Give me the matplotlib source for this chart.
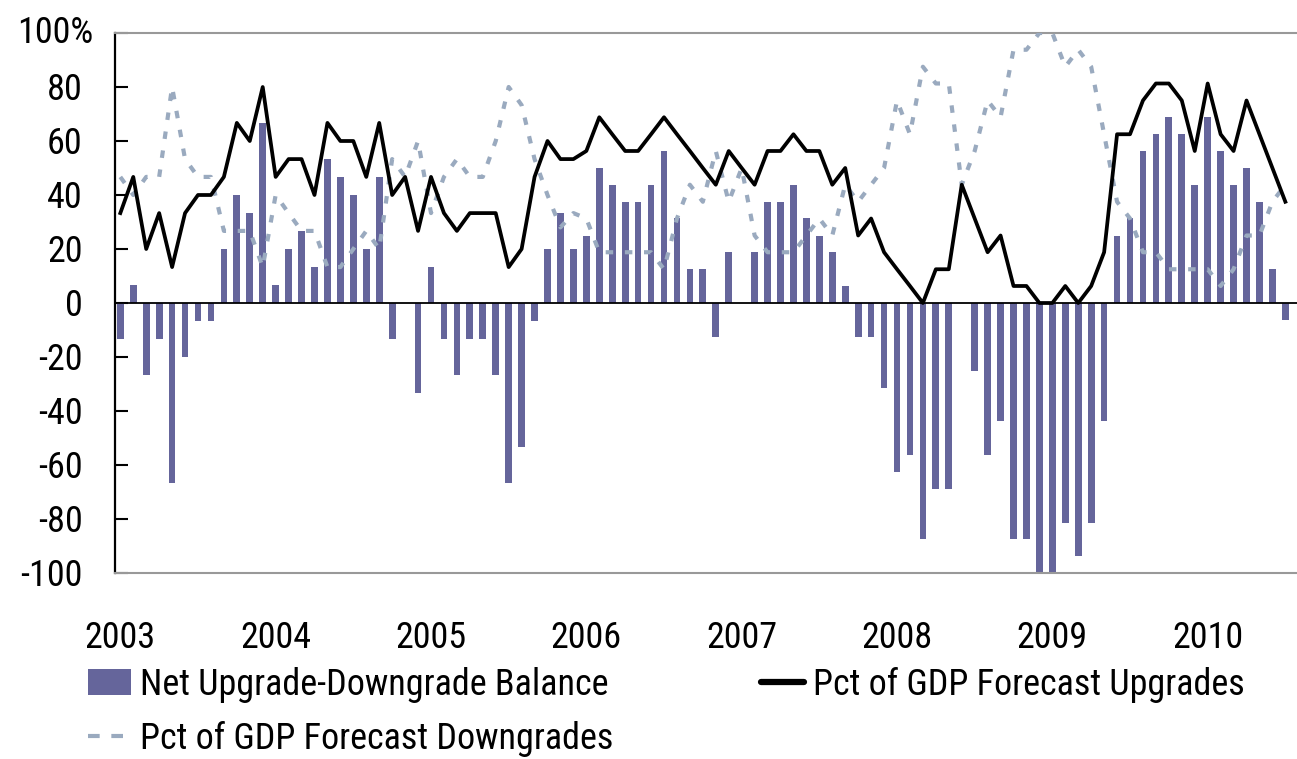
import matplotlib
matplotlib.use('Agg')
import matplotlib.pyplot as plt
from matplotlib import font_manager
from matplotlib.patches import Patch
from matplotlib.lines import Line2D
from matplotlib.transforms import offset_copy
import numpy as np


def pick_font():
    """Prefer a narrow face, the reference uses a condensed grotesque."""
    fl = font_manager.fontManager.ttflist
    for name in ['Liberation Sans Narrow', 'Roboto Condensed', 'Open Sans Condensed',
                 'Noto Sans Condensed', 'DejaVu Sans Condensed', 'Arial Narrow']:
        if any(f.name == name for f in fl):
            return name, 'normal'
    narrow = ('condensed', 'semi-condensed', 'extra-condensed', 'ultra-condensed')
    for name in ['Roboto', 'Noto Sans', 'Open Sans', 'Liberation Sans', 'DejaVu Sans']:
        if any(f.name == name and str(f.stretch) in narrow for f in fl):
            return name, 'condensed'
    return 'Liberation Sans', 'normal'


family, stretch = pick_font()
plt.rcParams['font.family'] = [family, 'DejaVu Sans']
plt.rcParams['font.stretch'] = stretch

# monthly values, Jan 2003 .. Jul 2010
years = ['2003', '2004', '2005', '2006', '2007', '2008', '2009', '2010']

net_balance = [
    -13.3, 6.7, -26.7, -13.3, -66.7, -20, -6.7, -6.7, 20, 40, 33.3, 66.7,
    6.7, 20, 26.7, 13.3, 53.3, 46.7, 40, 20, 46.7, -13.3, 0, -33.3,
    13.3, -13.3, -26.7, -13.3, -13.3, -26.7, -66.7, -53.3, -6.7, 20, 33.3, 20,
    25, 50, 43.8, 37.5, 37.5, 43.8, 56.3, 31.3, 12.5, 12.5, -12.5, 18.8,
    0, 18.8, 37.5, 37.5, 43.8, 31.3, 25, 18.8, 6.3, -12.5, -12.5, -31.3,
    -62.5, -56.3, -87.5, -68.8, -68.8, 0, -25, -56.3, -43.8, -87.5, -87.5, -100,
    -100, -81.3, -93.8, -81.3, -43.8, 25, 31.3, 56.3, 62.5, 68.8, 62.5, 43.8,
    68.8, 56.3, 43.8, 50, 37.5, 12.5, -6.3,
]

pct_upgrades = [
    33.3, 46.7, 20, 33.3, 13.3, 33.3, 40, 40, 46.7, 66.7, 60, 80,
    46.7, 53.3, 53.3, 40, 66.7, 60, 60, 46.7, 66.7, 40, 46.7, 26.7,
    46.7, 33.3, 26.7, 33.3, 33.3, 33.3, 13.3, 20, 46.7, 60, 53.3, 53.3,
    56.3, 68.8, 62.5, 56.3, 56.3, 62.5, 68.8, 62.5, 56.3, 50, 43.8, 56.3,
    50, 43.8, 56.3, 56.3, 62.5, 56.3, 56.3, 43.8, 50, 25, 31.3, 18.8,
    12.5, 6.3, 0, 12.5, 12.5, 43.8, 31.3, 18.8, 25, 6.3, 6.3, 0,
    0, 6.3, 0, 6.3, 18.8, 62.5, 62.5, 75, 81.3, 81.3, 75, 56.3,
    81.3, 62.5, 56.3, 75, 62.5, 50, 37.5,
]

pct_downgrades = [
    46.7, 40, 46.7, 46.7, 80, 53.3, 46.7, 46.7, 26.7, 26.7, 26.7, 13.3,
    40, 33.3, 26.7, 26.7, 13.3, 13.3, 20, 26.7, 20, 53.3, 46.7, 60,
    33.3, 46.7, 53.3, 46.7, 46.7, 60, 80, 73.3, 53.3, 40, 28, 33.3,
    31.3, 18.8, 18.8, 18.8, 18.8, 18.8, 12.5, 31.3, 43.8, 37.5, 56.3, 37.5,
    50, 25, 18.8, 18.8, 18.8, 25, 31.3, 25, 43.8, 37.5, 43.8, 50,
    75, 62.5, 87.5, 81.3, 81.3, 43.8, 56.3, 75, 68.8, 93.8, 93.8, 100,
    100, 87.5, 93.8, 87.5, 62.5, 37.5, 31.3, 18.8, 18.8, 12.5, 12.5, 12.5,
    12.5, 6.3, 12.5, 25, 25, 37.5, 43.8,
]

labels = ['Net Upgrade-Downgrade Balance', 'Pct of GDP Forecast Downgrades',
          'Pct of GDP Forecast Upgrades']

bar_color = '#65659b'
down_color = '#9aaabf'

W, H = 1297, 759
fig = plt.figure(figsize=(W / 100, H / 100), dpi=100)
fig.patch.set_facecolor('white')

# size the text so the first legend entry is as wide as in the reference (~468 px)
renderer = fig.canvas.get_renderer()
probe = fig.text(0, 0, labels[0], fontsize=20)
FS = min(28, 20 * 468 / probe.get_window_extent(renderer).width)
probe.remove()
fs_px = FS * 100 / 72
digit_h = 0.72 * fs_px

ax = fig.add_axes([114.5 / W, 1 - 573 / H, (W - 114.5) / W, (573 - 33) / H])

x = np.arange(len(net_balance))
ax.bar(x, net_balance, width=0.52, color=bar_color, zorder=2)
ax.axhline(0, color='black', lw=1.3, zorder=3)
ax.plot(x, pct_downgrades, color=down_color, lw=3.0, dashes=(1.8, 2.8), zorder=4)
ax.plot(x, pct_upgrades, color='black', lw=2.7, zorder=5)

ax.set_xlim(-0.45, 90.9)
ax.set_ylim(-100, 100)

for side in ['top', 'bottom']:
    ax.spines[side].set_color('#999999')
    ax.spines[side].set_linewidth(1.5)
ax.spines['right'].set_visible(False)
ax.spines['left'].set_color('black')
ax.spines['left'].set_linewidth(1.6)

# y ticks point inward; labels drawn by hand so 100% can hang a bit
yvals = np.arange(-100, 101, 20)
ax.set_yticks(yvals)
ax.set_yticklabels([])
ax.tick_params(axis='y', direction='in', length=9.5, width=1.5, color='black')
for v in yvals:
    if v == 100:
        tr = offset_copy(ax.get_yaxis_transform(), fig=fig, x=-21,
                         y=3 - digit_h / 2, units='dots')
        txt = '100%'
    else:
        tr = offset_copy(ax.get_yaxis_transform(), fig=fig, x=-32,
                         y=-digit_h / 2, units='dots')
        txt = str(v)
    ax.text(0, v, txt, transform=tr, ha='right', va='baseline', fontsize=FS)

# year labels under January of each year
ax.set_xticks([])
year_tr = offset_copy(ax.get_xaxis_transform(), fig=fig, x=0, y=-75, units='dots')
for k, yr in enumerate(years):
    ax.text(12 * k, 0, yr, transform=year_tr, ha='center', va='baseline', fontsize=FS)

handles = [
    Patch(facecolor=bar_color, edgecolor='none'),
    Line2D([], [], color=down_color, lw=3.0, dashes=(2.8, 2.8)),
    Line2D([], [], color='black', lw=4.5, solid_capstyle='round'),
]
fig.legend(handles, labels, ncol=2, loc='upper left',
           bbox_to_anchor=(88 / W, 1 - (703 - 1.0 * fs_px) / H), frameon=False,
           fontsize=FS, handlelength=43 / fs_px, handleheight=27 / fs_px,
           handletextpad=9 / fs_px, columnspacing=148 / fs_px,
           labelspacing=(60 - 1.17 * fs_px) / fs_px, borderpad=0, borderaxespad=0)

fig.savefig('out.png', dpi=100)
